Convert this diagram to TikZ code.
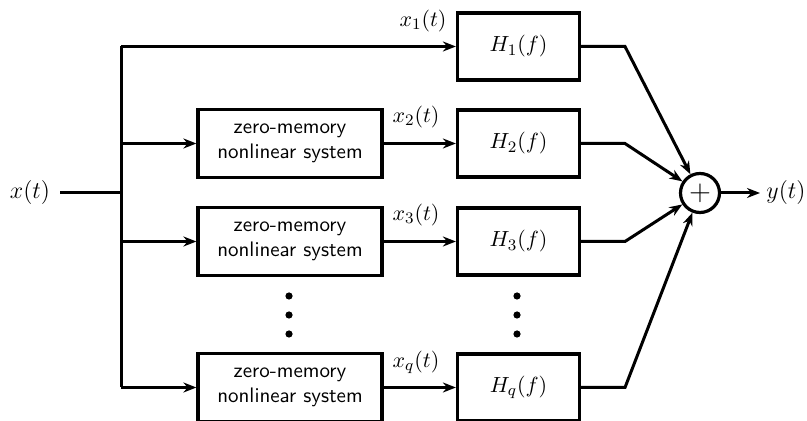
\documentclass[tikz,border=0pt]{standalone}
\usetikzlibrary{arrows.meta}
\begin{document}
\begin{tikzpicture}[x=0.5pt,y=-0.5pt,line width=1.5pt,
  >={Stealth[length=6.5pt,width=5pt]},
  every node/.style={font=\fontsize{11}{13}\selectfont},
  hbox/.style={draw,line width=1.6pt,minimum width=61pt,minimum height=33.5pt,inner sep=0pt},
  nlbox/.style={draw,line width=1.6pt,minimum width=92pt,minimum height=34pt,inner sep=0pt,align=center,
    font=\fontsize{10.5}{12.5}\selectfont\sffamily},
  sumc/.style={draw,circle,line width=1.6pt,minimum size=19.5pt,inner sep=0pt,font=\fontsize{15}{17}\selectfont},
  dotc/.style={fill,circle,minimum size=3.6pt,inner sep=0pt,line width=0pt},
  sig/.style={inner sep=1pt},
  io/.style={inner sep=1pt,font=\fontsize{12}{14}\selectfont}]
\useasboundingbox (0,0) rectangle (807,421);
% filters
\node[hbox] (h1) at (518.5,46.5) {$H_1(f)$};
\node[hbox] (h2) at (518.5,143.5) {$H_2(f)$};
\node[hbox] (h3) at (518.5,241.5) {$H_3(f)$};
\node[hbox] (hq) at (518.5,387.5) {$H_q(f)$};
% nonlinear systems
\node[nlbox] (n2) at (290,143.5) {zero-memory\\nonlinear system};
\node[nlbox] (n3) at (290,241.5) {zero-memory\\nonlinear system};
\node[nlbox] (nq) at (290,387.5) {zero-memory\\nonlinear system};
% summer
\node[sumc] (sum) at (700,193) {$+$};
% input / output labels
\node[io] (xin) at (30,193) {$x(t)$};
\node[io] (yout) at (786,193) {$y(t)$};
% signal labels
\node[sig] (lx1) at (423,21) {$x_1(t)$};
\node[sig] (lx2) at (416,117) {$x_2(t)$};
\node[sig] (lx3) at (416,215) {$x_3(t)$};
\node[sig] (lxq) at (416,362) {$x_q(t)$};
% dots
\node[dotc] (d1) at (289,296) {};
\node[dotc] (d2) at (289,315) {};
\node[dotc] (d3) at (289,334) {};
\node[dotc] (e1) at (517,296) {};
\node[dotc] (e2) at (517,315) {};
\node[dotc] (e3) at (517,334) {};
% bus coordinates
\coordinate (in0) at (60,193);
\coordinate (bin) at (121,193);
\coordinate (b1) at (121,46.5);
\coordinate (b2) at (121,143.5);
\coordinate (b3) at (121,241.5);
\coordinate (bq) at (121,387.5);
\coordinate (k1) at (625,46.5);
\coordinate (k2) at (625,143.5);
\coordinate (k3) at (625,241.5);
\coordinate (kq) at (625,387.5);
\coordinate (yend) at (760,193);
% wiring
\draw (in0) -- (bin);
\draw (b1) -- (bq);
\draw[->] (b1) -- (h1.west);
\draw[->] (b2) -- (n2.west);
\draw[->] (b3) -- (n3.west);
\draw[->] (bq) -- (nq.west);
\draw[->] (n2.east) -- (h2.west);
\draw[->] (n3.east) -- (h3.west);
\draw[->] (nq.east) -- (hq.west);
\draw[->] (h1.east) -- (k1) -- (sum);
\draw[->] (h2.east) -- (k2) -- (sum);
\draw[->] (h3.east) -- (k3) -- (sum);
\draw[->] (hq.east) -- (kq) -- (sum);
\draw[->] (sum) -- (yend);
\end{tikzpicture}
\end{document}
